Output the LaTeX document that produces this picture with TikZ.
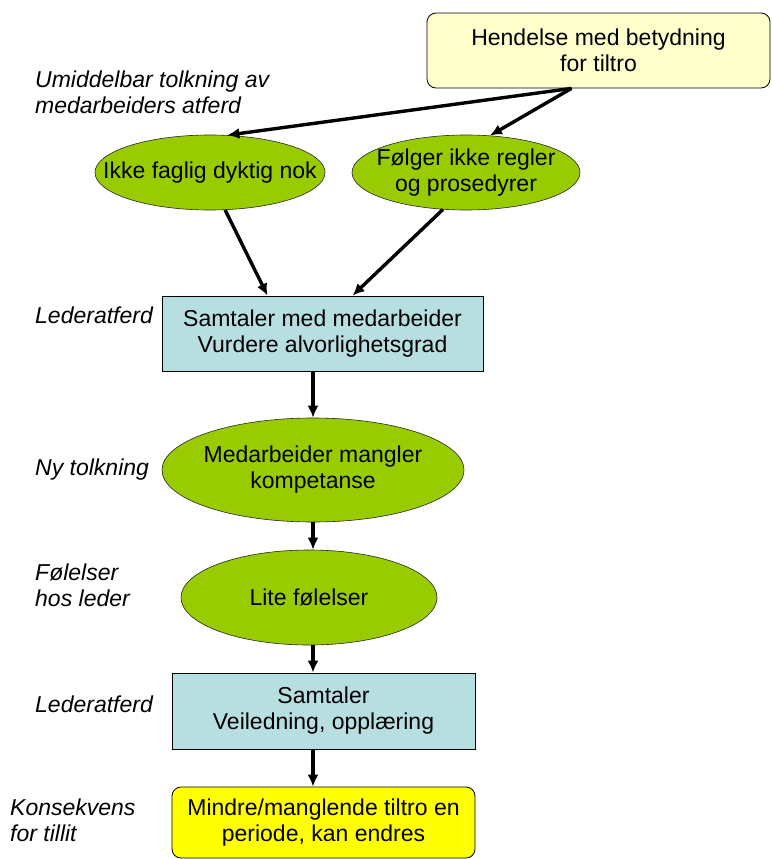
\documentclass[tikz,border=0pt]{standalone}
\usepackage{fontspec}
\setmainfont{Liberation Sans}
\usetikzlibrary{arrows.meta,calc,shapes.geometric}
\definecolor{hendelsegul}{HTML}{FFFFCC}
\definecolor{tolkgronn}{HTML}{99CC00}
\definecolor{atferdblaa}{HTML}{B7DEE1}
\definecolor{tiltrogul}{HTML}{FFFF00}

\begin{document}
\begin{tikzpicture}[x = 1pt, y = -1pt,
    every node/.style = {font = \fontsize{23}{26}\selectfont, align = center, inner sep = 0pt},
    tolkning/.style = {shape = ellipse, draw = black!85, fill = tolkgronn, line width = 0.6pt, inner xsep = -60pt},
    atferd/.style = {shape = rectangle, draw, fill = atferdblaa, line width = 0.8pt},
    hendelseboks/.style = {shape = rectangle, draw, rounded corners = 9pt, line width = 0.8pt},
    sidetekst/.style = {align = left, font = \fontsize{23}{26}\selectfont\itshape},
    pil/.style = {line width = 3.4pt, -{Latex[length = 12pt, width = 11pt]}}]
    \useasboundingbox (0,0) rectangle (771,859);

    \node[hendelseboks, fill = hendelsegul, minimum width = 343, minimum height = 75] (hendelse) at (598.5,50.5) {Hendelse med betydning\\for tiltro};
    \node[tolkning, minimum width = 230, minimum height = 75] (ikke) at (210,172.5) {Ikke faglig dyktig nok};
    \node[tolkning, minimum width = 228, minimum height = 75] (folger) at (466,172.5) {Følger ikke regler\\og prosedyrer};
    \node[atferd, minimum width = 321, minimum height = 75] (samtale) at (322.5,333.5) {Samtaler med medarbeider\\Vurdere alvorlighetsgrad};
    \node[tolkning, minimum width = 302, minimum height = 104] (medarb) at (313,470) {Medarbeider mangler\\kompetanse};
    \node[tolkning, minimum width = 256, minimum height = 95] (folelse) at (309,597.5) {Lite følelser};
    \node[atferd, minimum width = 303, minimum height = 76] (veiledning) at (323.5,711) {Samtaler\\Veiledning, opplæring};
    \node[hendelseboks, fill = tiltrogul, minimum width = 303, minimum height = 71] (tiltro) at (323.5,822.5) {Mindre/manglende tiltro en\\periode, kan endres};

    \node[sidetekst, anchor = west] (umiddelbar) at (35,92) {Umiddelbar tolkning av\\medarbeiders atferd};
    \node[sidetekst, anchor = base west] (lederatferdA) at (35,323) {Lederatferd};
    \node[sidetekst, anchor = base west] (nytolkning) at (35,475) {Ny tolkning};
    \node[sidetekst, anchor = west] (folelser) at (35,585) {Følelser\\hos leder};
    \node[sidetekst, anchor = base west] (lederatferdB) at (35,712) {Lederatferd};
    \node[sidetekst, anchor = west] (konsekvens) at (10,820.5) {Konsekvens\\for tillit};

    \coordinate (kilde) at ($(hendelse.south)+(-27,0)$);
    \draw[pil] (kilde) -- (ikke.65);
    \draw[pil] (kilde) -- (folger.57);
    \draw[pil] (ikke.-68) -- ($(samtale.north)+(-55,0)$);
    \draw[pil] (folger.-122) -- ($(samtale.north)+(30,0)$);
    \draw[pil] (samtale.south -| medarb.north) -- (medarb.north);
    \draw[pil] (medarb.south) -- (folelse.north -| medarb.south);
    \draw[pil] (folelse.south -| medarb.south) -- (veiledning.north -| medarb.south);
    \draw[pil] (veiledning.south -| medarb.south) -- (tiltro.north -| medarb.south);
\end{tikzpicture}
\end{document}
